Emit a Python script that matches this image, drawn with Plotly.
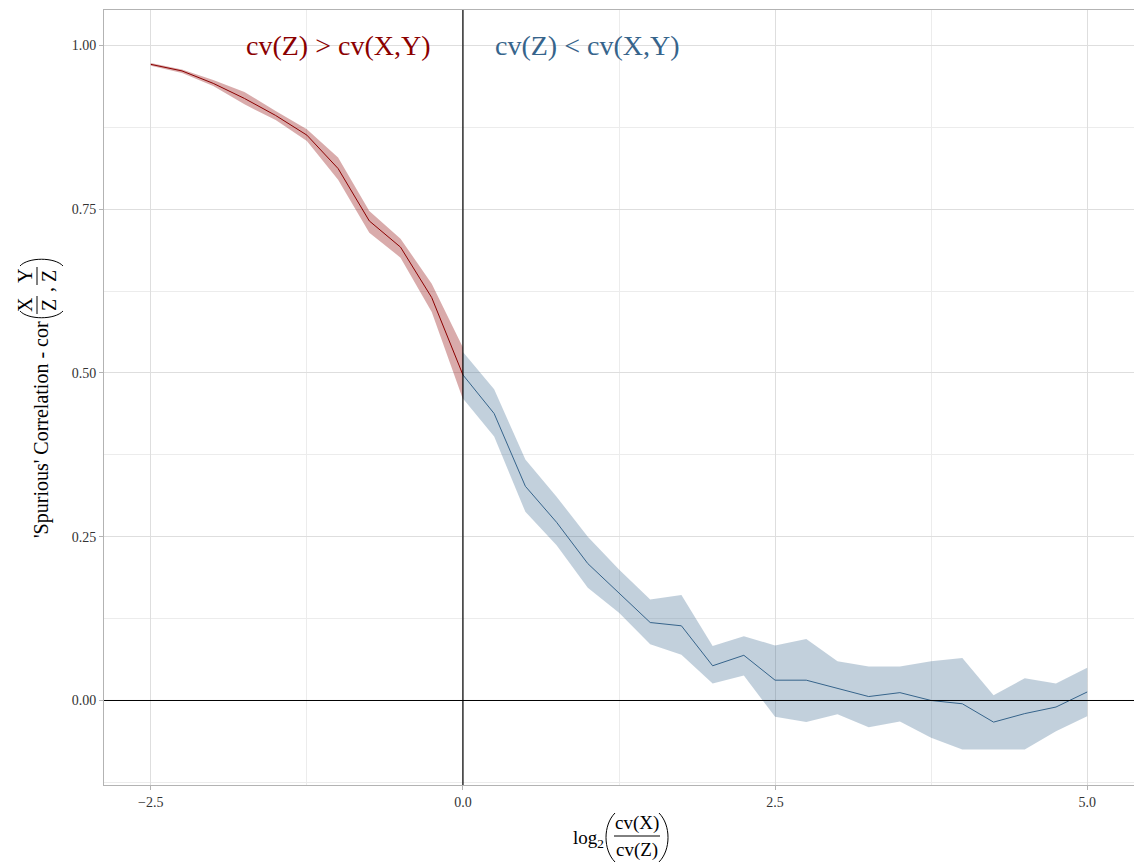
import plotly.graph_objects as go

# ---------------- data ----------------
x_red = [-2.5, -2.25, -2.0, -1.75, -1.5, -1.25, -1.0, -0.75, -0.5, -0.25, 0.0]
red_mean = [0.971, 0.961, 0.942, 0.919, 0.893, 0.863, 0.812, 0.732, 0.692, 0.615, 0.497]
red_hi = [0.973, 0.963, 0.947, 0.929, 0.900, 0.872, 0.829, 0.747, 0.705, 0.636, 0.539]
red_lo = [0.969, 0.958, 0.938, 0.910, 0.886, 0.854, 0.795, 0.714, 0.676, 0.593, 0.460]

x_blue = [0.0, 0.25, 0.5, 0.75, 1.0, 1.25, 1.5, 1.75, 2.0, 2.25, 2.5,
          2.75, 3.0, 3.25, 3.5, 3.75, 4.0, 4.25, 4.5, 4.75, 5.0]
blue_mean = [0.497, 0.438, 0.327, 0.272, 0.209, 0.164, 0.119, 0.114, 0.053, 0.069, 0.031,
             0.031, 0.019, 0.006, 0.012, 0.000, -0.005, -0.033, -0.020, -0.010, 0.013]
blue_hi = [0.532, 0.475, 0.368, 0.311, 0.250, 0.200, 0.154, 0.161, 0.083, 0.098, 0.084,
           0.094, 0.060, 0.052, 0.052, 0.060, 0.065, 0.008, 0.034, 0.026, 0.050]
blue_lo = [0.461, 0.403, 0.288, 0.237, 0.172, 0.134, 0.086, 0.070, 0.026, 0.038, -0.025,
           -0.033, -0.021, -0.041, -0.032, -0.057, -0.075, -0.075, -0.075, -0.047, -0.024]

label_left = "cv(Z) > cv(X,Y)"
label_right = "cv(Z) < cv(X,Y)"

RED = "#8B0000"
BLUE = "#36648B"
FONT = "Liberation Serif"

# ---------------- layout geometry ----------------
W, H = 1134, 864
L, R, T, B = 104, 0, 10, 79


def px_x(p):
    return (p - L) / (W - L - R)


def px_y(p):
    return (H - B - p) / (H - T - B)


fig = go.Figure()

# ribbons
fig.add_trace(go.Scatter(
    x=x_red + x_red[::-1], y=red_hi + red_lo[::-1], fill="toself",
    fillcolor="rgba(139,0,0,0.33)", line=dict(width=0), mode="lines",
    hoverinfo="skip", showlegend=False))
fig.add_trace(go.Scatter(
    x=x_blue + x_blue[::-1], y=blue_hi + blue_lo[::-1], fill="toself",
    fillcolor="rgba(54,100,139,0.30)", line=dict(width=0), mode="lines",
    hoverinfo="skip", showlegend=False))

# mean lines
fig.add_trace(go.Scatter(x=x_red, y=red_mean, mode="lines",
                         line=dict(color=RED, width=1), showlegend=False))
fig.add_trace(go.Scatter(x=x_blue, y=blue_mean, mode="lines",
                         line=dict(color=BLUE, width=1), showlegend=False))

# reference lines
fig.add_hline(y=0, line=dict(color="black", width=1), layer="above")
fig.add_vline(x=0, line=dict(color="black", width=1.2), layer="above")

annotations = [
    dict(x=-1, y=1.0, xref="x", yref="y", text=label_left, showarrow=False,
         font=dict(family=FONT, size=28, color=RED), xanchor="center", yanchor="middle"),
    dict(x=1, y=1.0, xref="x", yref="y", text=label_right, showarrow=False,
         font=dict(family=FONT, size=28, color=BLUE), xanchor="center", yanchor="middle"),
]

tfont = dict(family=FONT, size=19, color="black")
yfont = dict(family=FONT, size=20, color="black")

# ---- x-axis title: log2( cv(X) / cv(Z) ) ----
annotations += [
    dict(x=px_x(588), y=px_y(839), xref="paper", yref="paper", text="log<sub>2</sub>",
         showarrow=False, font=tfont, xanchor="center", yanchor="middle"),
    dict(x=px_x(637), y=px_y(823), xref="paper", yref="paper", text="cv(X)",
         showarrow=False, font=tfont, xanchor="center", yanchor="middle"),
    dict(x=px_x(637), y=px_y(850), xref="paper", yref="paper", text="cv(Z)",
         showarrow=False, font=tfont, xanchor="center", yanchor="middle"),
]

# ---- y-axis title: 'Spurious' Correlation - cor( X/Z , Y/Z ) ----
annotations += [
    dict(x=px_x(41), y=px_y(430), xref="paper", yref="paper",
         text="'Spurious' Correlation - cor", textangle=-90,
         showarrow=False, font=yfont, xanchor="center", yanchor="middle"),
    dict(x=px_x(25), y=px_y(305), xref="paper", yref="paper", text="X", textangle=-90,
         showarrow=False, font=yfont, xanchor="center", yanchor="middle"),
    dict(x=px_x(49), y=px_y(305), xref="paper", yref="paper", text="Z", textangle=-90,
         showarrow=False, font=yfont, xanchor="center", yanchor="middle"),
    dict(x=px_x(46), y=px_y(290), xref="paper", yref="paper", text=",", textangle=-90,
         showarrow=False, font=yfont, xanchor="center", yanchor="middle"),
    dict(x=px_x(25), y=px_y(276), xref="paper", yref="paper", text="Y", textangle=-90,
         showarrow=False, font=yfont, xanchor="center", yanchor="middle"),
    dict(x=px_x(49), y=px_y(276), xref="paper", yref="paper", text="Z", textangle=-90,
         showarrow=False, font=yfont, xanchor="center", yanchor="middle"),
]


def P(px, py):
    return f"{px_x(px):.5f},{px_y(py):.5f}"


title_shapes = [
    # x-title fraction bar and parentheses
    dict(type="line", xref="paper", yref="paper",
         x0=px_x(614), x1=px_x(660), y0=px_y(836), y1=px_y(836),
         line=dict(color="black", width=1)),
    dict(type="path", xref="paper", yref="paper",
         path=f"M{P(615,813)} C{P(603,825)} {P(603,850)} {P(615,862)}",
         line=dict(color="black", width=1)),
    dict(type="path", xref="paper", yref="paper",
         path=f"M{P(659,813)} C{P(671,825)} {P(671,850)} {P(659,862)}",
         line=dict(color="black", width=1)),
    # y-title fraction bars and parentheses
    dict(type="line", xref="paper", yref="paper",
         x0=px_x(37), x1=px_x(37), y0=px_y(296), y1=px_y(314),
         line=dict(color="black", width=1)),
    dict(type="line", xref="paper", yref="paper",
         x0=px_x(37), x1=px_x(37), y0=px_y(267), y1=px_y(285),
         line=dict(color="black", width=1)),
    dict(type="path", xref="paper", yref="paper",
         path=f"M{P(20,311)} C{P(28,320)} {P(55,320)} {P(63,311)}",
         line=dict(color="black", width=1)),
    dict(type="path", xref="paper", yref="paper",
         path=f"M{P(20,266)} C{P(28,257)} {P(55,257)} {P(63,266)}",
         line=dict(color="black", width=1)),
]
for s in title_shapes:
    fig.add_shape(**s)

axis_common = dict(
    showline=True, mirror=True, linecolor="#b3b3b3", linewidth=1,
    ticks="outside", ticklen=4, tickcolor="#b3b3b3", tickwidth=1,
    showgrid=True, gridcolor="#dedede", gridwidth=1,
    zeroline=False,
    tickfont=dict(family=FONT, size=14, color="#333333"),
)

fig.update_layout(
    width=W, height=H,
    margin=dict(l=L, r=R, t=T, b=B),
    paper_bgcolor="white", plot_bgcolor="white",
    showlegend=False,
    annotations=annotations,
    xaxis=dict(range=[-2.875, 5.375], tick0=0, dtick=2.5, tickformat=".1f",
               minor=dict(dtick=1.25, showgrid=True, gridcolor="#ececec", gridwidth=1),
               **axis_common),
    yaxis=dict(range=[-0.129, 1.054], tick0=0, dtick=0.25, tickformat=".2f",
               minor=dict(dtick=0.125, showgrid=True, gridcolor="#ececec", gridwidth=1),
               **axis_common),
)

fig.write_html("out.html")
